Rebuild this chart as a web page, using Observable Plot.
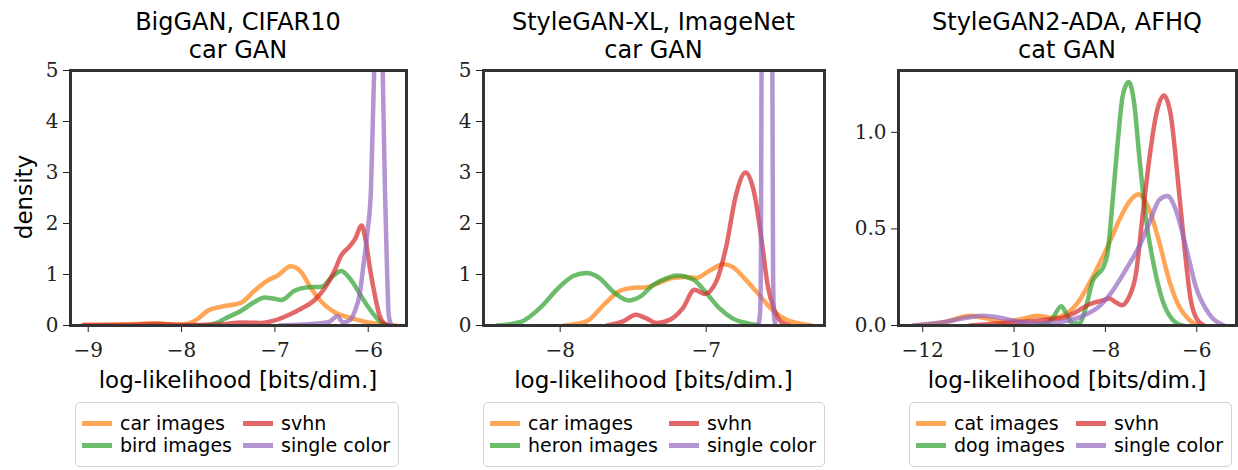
<!DOCTYPE html>
<html><head><meta charset="utf-8">
<script src="https://cdn.jsdelivr.net/npm/d3@7"></script>
<script src="https://cdn.jsdelivr.net/npm/@observablehq/plot@0.6"></script>
<style>
body{margin:0;background:#fff;}
#root{position:relative;width:1238px;height:470px;overflow:hidden;font-family:"DejaVu Sans",sans-serif;color:#000;}
.title{position:absolute;top:8px;text-align:center;font-size:24px;line-height:28px;white-space:nowrap;}
.xlabel{position:absolute;top:366px;text-align:center;font-size:23px;line-height:28px;white-space:nowrap;}
.ylabel{position:absolute;left:24px;top:197px;font-size:23px;line-height:28px;white-space:nowrap;transform:translate(-50%,-50%) rotate(-90deg);}
.legend{position:absolute;top:402px;height:65px;box-sizing:border-box;border:1.5px solid #d3d3d3;border-radius:5px;padding:9px 8px 0 6px;display:grid;grid-template-rows:22px 22px;grid-auto-flow:column;column-gap:11px;font-size:19px;line-height:22px;align-content:start;background:#fff;}
.item{display:flex;align-items:center;white-space:nowrap;}
.sw{width:30px;height:5px;margin-right:8px;flex:none;}
.plot{position:absolute;top:65px;}
</style>
</head><body><div id="root"></div>
<script>
// ---------- data (x = log-likelihood [bits/dim.], y = density) ----------
const colors = ["#ff7f0e", "#2ca02c", "#d62728", "#9467bd"];

// Panel 1: BigGAN, CIFAR10 car GAN
const p1Car = [[-9.05,0.01],[-8.8,0.015],[-8.5,0.03],[-8.3,0.045],[-8.1,0.02],[-7.95,0.03],[-7.85,0.1],[-7.72,0.29],[-7.57,0.37],[-7.36,0.45],[-7.22,0.68],[-7.08,0.88],[-6.97,0.98],[-6.83,1.16],[-6.72,1.05],[-6.61,0.72],[-6.5,0.46],[-6.36,0.26],[-6.21,0.16],[-6.0,0.06],[-5.85,0.02],[-5.7,0.0]];
const p1Bird = [[-7.95,0.0],[-7.72,0.01],[-7.62,0.05],[-7.54,0.13],[-7.36,0.29],[-7.22,0.46],[-7.11,0.55],[-7.02,0.53],[-6.93,0.5],[-6.79,0.68],[-6.65,0.75],[-6.5,0.76],[-6.39,0.95],[-6.29,1.07],[-6.18,0.88],[-6.07,0.56],[-5.96,0.26],[-5.86,0.06],[-5.78,0.0]];
const p1Svhn = [[-9.05,0.01],[-8.6,0.01],[-8.25,0.03],[-8.0,0.01],[-7.6,0.02],[-7.35,0.06],[-7.15,0.05],[-7.0,0.1],[-6.86,0.2],[-6.72,0.33],[-6.58,0.49],[-6.47,0.72],[-6.36,1.08],[-6.29,1.37],[-6.2,1.55],[-6.14,1.7],[-6.07,1.96],[-6.03,1.7],[-5.98,1.1],[-5.93,0.6],[-5.88,0.2],[-5.83,0.04],[-5.78,0.0]];
const p1Single = [[-6.95,0.0],[-6.7,0.02],[-6.55,0.04],[-6.42,0.07],[-6.33,0.18],[-6.27,0.06],[-6.2,0.1],[-6.14,0.3],[-6.09,0.63],[-6.05,1.2],[-6.01,1.8],[-5.97,2.7],[-5.93,5.5],[-5.89,9],[-5.85,5.5],[-5.82,2.6],[-5.8,1.2],[-5.78,0.2],[-5.75,0.0]];

// Panel 2: StyleGAN-XL, ImageNet car GAN
const p2Car = [[-7.97,0],[-7.82,0.08],[-7.7,0.41],[-7.59,0.68],[-7.5,0.74],[-7.41,0.75],[-7.32,0.84],[-7.23,0.93],[-7.14,0.95],[-7.07,0.93],[-6.98,1.07],[-6.88,1.2],[-6.82,1.15],[-6.73,0.9],[-6.64,0.61],[-6.55,0.31],[-6.45,0.11],[-6.36,0.04],[-6.28,0.0]];
const p2Heron = [[-8.43,0],[-8.27,0.07],[-8.14,0.34],[-8.0,0.77],[-7.91,0.97],[-7.82,1.03],[-7.73,0.93],[-7.64,0.67],[-7.53,0.49],[-7.45,0.57],[-7.36,0.8],[-7.27,0.93],[-7.2,0.98],[-7.09,0.9],[-7.0,0.64],[-6.91,0.34],[-6.82,0.14],[-6.73,0.05],[-6.64,0.0]];
const p2Svhn = [[-7.68,0],[-7.57,0.08],[-7.48,0.21],[-7.41,0.14],[-7.34,0.05],[-7.25,0.11],[-7.16,0.34],[-7.08,0.7],[-7.01,0.62],[-6.93,0.87],[-6.86,1.59],[-6.8,2.51],[-6.73,3.0],[-6.67,2.58],[-6.62,1.66],[-6.58,0.8],[-6.53,0.28],[-6.49,0.08],[-6.43,0]];
const p2Single = [[-6.645,0],[-6.632,0.2],[-6.626,1],[-6.62,6],[-6.6,12],[-6.585,13],[-6.565,12],[-6.548,6],[-6.542,1],[-6.536,0.2],[-6.525,0]];

// Panel 3: StyleGAN2-ADA, AFHQ cat GAN
const p3Cat = [[-12.2,0],[-11.48,0.02],[-10.97,0.05],[-10.68,0.04],[-10.24,0.02],[-9.8,0.035],[-9.51,0.05],[-9.15,0.04],[-8.86,0.06],[-8.57,0.13],[-8.35,0.22],[-8.13,0.32],[-7.91,0.43],[-7.69,0.55],[-7.48,0.64],[-7.28,0.68],[-7.04,0.6],[-6.82,0.43],[-6.6,0.23],[-6.39,0.1],[-6.17,0.03],[-6.0,0]];
const p3Dog = [[-9.55,0],[-9.3,0.01],[-9.15,0.04],[-8.97,0.1],[-8.85,0.06],[-8.72,0.01],[-8.58,0.01],[-8.42,0.1],[-8.28,0.23],[-8.15,0.27],[-8.05,0.3],[-7.95,0.38],[-7.84,0.65],[-7.73,0.95],[-7.62,1.19],[-7.49,1.26],[-7.37,1.15],[-7.26,0.88],[-7.11,0.55],[-6.93,0.3],[-6.75,0.13],[-6.53,0.03],[-6.31,0]];
const p3Svhn = [[-10.97,0],[-10.39,0.01],[-9.8,0.02],[-9.29,0.03],[-8.93,0.04],[-8.64,0.07],[-8.35,0.11],[-8.06,0.13],[-7.91,0.14],[-7.77,0.12],[-7.64,0.105],[-7.5,0.14],[-7.33,0.27],[-7.19,0.56],[-7.04,0.86],[-6.89,1.09],[-6.72,1.19],[-6.57,1.09],[-6.42,0.77],[-6.28,0.43],[-6.13,0.13],[-5.99,0.03],[-5.84,0]];
const p3Single = [[-12.2,0],[-11.48,0.02],[-11.04,0.04],[-10.68,0.05],[-10.31,0.04],[-9.88,0.02],[-9.44,0.01],[-8.93,0.02],[-8.49,0.05],[-8.13,0.1],[-7.84,0.18],[-7.55,0.29],[-7.26,0.41],[-7.04,0.53],[-6.82,0.65],[-6.64,0.67],[-6.46,0.6],[-6.24,0.41],[-6.02,0.2],[-5.73,0.06],[-5.4,0]];

const titles = [["BigGAN, CIFAR10","car GAN"],["StyleGAN-XL, ImageNet","car GAN"],["StyleGAN2-ADA, AFHQ","cat GAN"]];
const legendLabels = [["car images","bird images","svhn","single color"],["car images","heron images","svhn","single color"],["cat images","dog images","svhn","single color"]];
const xTicks = [[-9,-8,-7,-6],[-8,-7],[-12,-10,-8,-6]];
const yTicks = [[0,1,2,3,4,5],[0,1,2,3,4,5],[0,0.5,1.0]];
const xLabel = "log-likelihood [bits/dim.]";
const yLabel = "density";

// ---------- layout ----------
const layout = [
  {left:0,   mL:70, mR:6, width:412, xDomain:[-9.19,-5.59], yDomain:[0,5],    yFmt:d3.format("d"),   legendLeft:75},
  {left:420, mL:63, mR:6, width:410, xDomain:[-8.525,-6.19], yDomain:[0,5],   yFmt:d3.format("d"),   legendLeft:483},
  {left:840, mL:58, mR:2, width:398, xDomain:[-12.53,-5.13], yDomain:[0,1.32], yFmt:d3.format(".1f"), legendLeft:909}
];
const seriesData = [[p1Car,p1Bird,p1Svhn,p1Single],[p2Car,p2Heron,p2Svhn,p2Single],[p3Cat,p3Dog,p3Svhn,p3Single]];

const root = document.getElementById("root");
const mT = 5, mB = 35, innerH = 255;

layout.forEach((L, i) => {
  const marks = seriesData[i].map((s, k) =>
    Plot.line(s.map(([x, y]) => ({x, y})), {x: "x", y: "y", stroke: colors[k], strokeOpacity: 0.7, strokeWidth: 4.5, curve: "monotone-x", clip: true})
  );
  const svg = Plot.plot({
    width: L.width, height: mT + innerH + mB,
    marginLeft: L.mL, marginRight: L.mR, marginTop: mT, marginBottom: mB,
    style: {fontFamily: "'DejaVu Serif', serif", fontSize: "20px", color: "#222", background: "transparent", overflow: "visible"},
    x: {domain: L.xDomain, ticks: xTicks[i], tickSize: 7, tickPadding: 10, label: null, tickFormat: d3.format("d")},
    y: {domain: L.yDomain, ticks: yTicks[i], tickSize: 7, tickPadding: 5, label: null, tickFormat: L.yFmt},
    marks: [...marks, Plot.frame({stroke: "#333", strokeWidth: 3})]
  });
  svg.classList.add("plot");
  svg.style.left = L.left + "px";
  root.appendChild(svg);

  const fl = L.left + L.mL, fw = L.width - L.mL - L.mR;
  const t = document.createElement("div");
  t.className = "title";
  t.style.left = fl + "px"; t.style.width = fw + "px";
  t.innerHTML = titles[i].join("<br>");
  root.appendChild(t);

  const xl = document.createElement("div");
  xl.className = "xlabel";
  xl.style.left = fl + "px"; xl.style.width = fw + "px";
  xl.textContent = xLabel;
  root.appendChild(xl);

  const lg = document.createElement("div");
  lg.className = "legend";
  lg.style.left = L.legendLeft + "px";
  legendLabels[i].forEach((lab, k) => {
    const it = document.createElement("div");
    it.className = "item";
    const sw = document.createElement("span");
    sw.className = "sw"; sw.style.background = colors[k]; sw.style.opacity = 0.7;
    it.appendChild(sw);
    it.appendChild(document.createTextNode(lab));
    lg.appendChild(it);
  });
  root.appendChild(lg);
});

const yl = document.createElement("div");
yl.className = "ylabel";
yl.textContent = yLabel;
root.appendChild(yl);
</script>
</body></html>
